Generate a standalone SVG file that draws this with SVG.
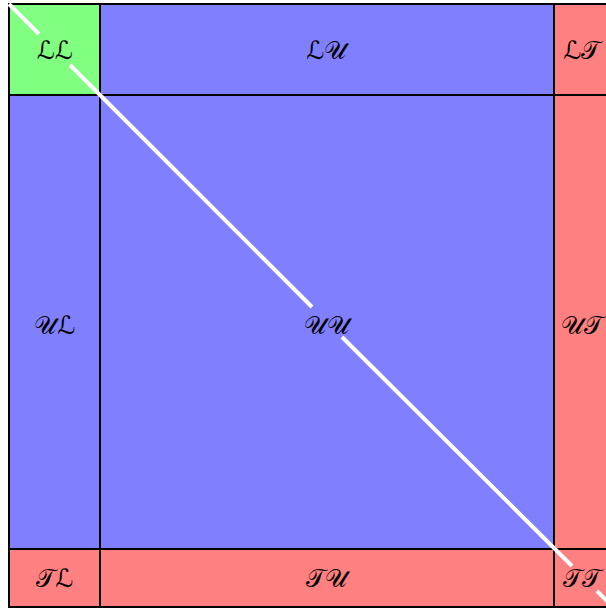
<svg xmlns="http://www.w3.org/2000/svg" width="606" height="610" viewBox="0 0 606 610">
<style>
.c{stroke:#000;stroke-width:2}
.g{fill:#80ff80}.b{fill:#8080ff}.r{fill:#ff8080}
text{font-family:"DejaVu Serif","DejaVu Sans",serif;font-size:25px;text-anchor:middle;dominant-baseline:central;fill:#000}
.d{stroke:#fff;stroke-width:4;fill:none}
</style>
<g id="LL"><rect class="c g" x="9" y="4" width="91" height="91"/><text x="55" y="50">ℒℒ</text></g>
<g id="LU"><rect class="c b" x="100" y="4" width="454" height="91"/><text x="327" y="50">ℒ𝒰</text></g>
<g id="LT"><rect class="c r" x="554" y="4" width="56" height="91"/><text x="582" y="50">ℒ𝒯</text></g>
<g id="UL"><rect class="c b" x="9" y="95" width="91" height="454"/><text x="55" y="325">𝒰ℒ</text></g>
<g id="UU"><rect class="c b" x="100" y="95" width="454" height="454"/><text x="327" y="325">𝒰𝒰</text></g>
<g id="UT"><rect class="c r" x="554" y="95" width="56" height="454"/><text x="582" y="325">𝒰𝒯</text></g>
<g id="TL"><rect class="c r" x="9" y="549" width="91" height="58"/><text x="55" y="578">𝒯ℒ</text></g>
<g id="TU"><rect class="c r" x="100" y="549" width="454" height="58"/><text x="327" y="578">𝒯𝒰</text></g>
<g id="TT"><rect class="c r" x="554" y="549" width="56" height="58"/><text x="582" y="578">𝒯𝒯</text></g>
<g id="connectors"><path class="d" d="M9 4L39 34M70 65L312 307M342 337L572 566M597 591L620 614"/></g>
</svg>
